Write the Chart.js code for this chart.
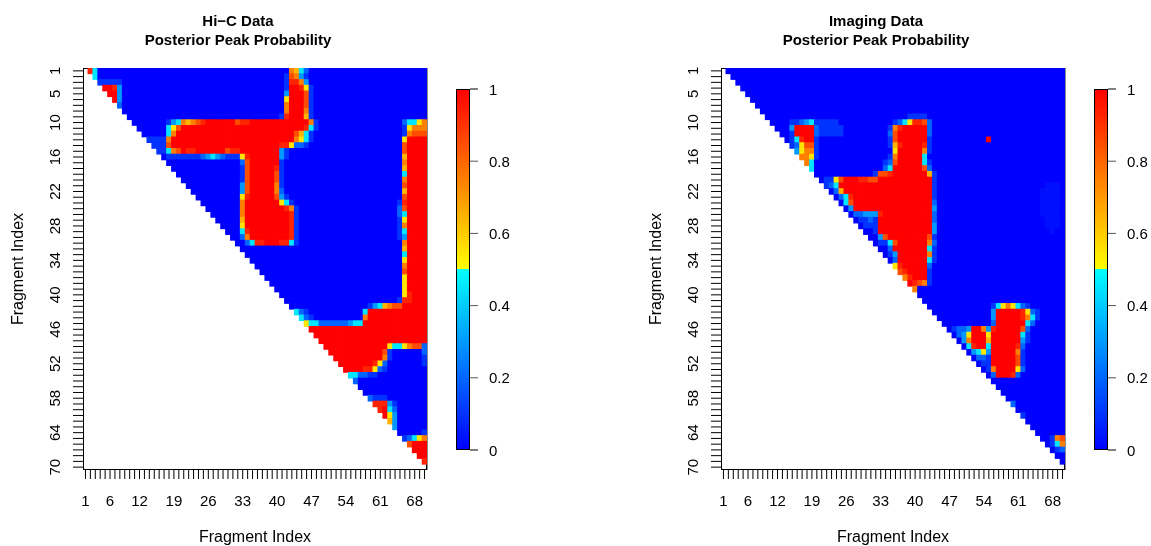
<!DOCTYPE html>
<html>
<head>
<meta charset="utf-8">
<script src="https://cdn.jsdelivr.net/npm/chart.js@4.4.1/dist/chart.umd.min.js"></script>
<style>
  html, body { margin: 0; padding: 0; background: #fff; overflow: hidden; }
  #wrap { position: relative; width: 1151px; height: 546px; }
  canvas { position: absolute; top: 0; }
  #hic { left: 0; }
  #imaging { left: 638px; }
</style>
</head>
<body>
<div id="wrap">
  <canvas id="hic" width="513" height="546"></canvas>
  <canvas id="imaging" width="513" height="546"></canvas>
</div>
<script>
var nFrag = 70;
var xTickLabels = [1, 6, 12, 19, 26, 33, 40, 47, 54, 61, 68];
var yTickLabels = [1, 5, 10, 16, 22, 28, 34, 40, 46, 52, 58, 64, 70];
var legendTicks = [0, 0.2, 0.4, 0.6, 0.8, 1];

// posterior probability codes used in the row specs below
var levels = { 'a': 0.03, '0': 0, '1': 0.1, '2': 0.2, '3': 0.3, '4': 0.45, '5': 0.55,
               '6': 0.65, '7': 0.75, '8': 0.85, '9': 0.93, 'X': 1 };

// one spec per row i (1..69), "col:code" or "from-to:code"; cells i<j not listed are ~0
var hicRows = [
  "2:9 3:4 43:7 44:6 45:4 46:2",
  "3:4 42:1 43:8 44:7 45:3 46:1",
  "4-8:1 42:1 43-44:9 45:7 46:3",
  "5-6:X 7:9 8:3 42:1 43-44:X 45:9 46:5 47:1",
  "6-7:X 8:3 42:3 43-45:X 46:8 47:1",
  "7:X 8:3 42:5 43-45:X 46:8 47:1",
  "8:2 42:7 43-45:X 46:8 47:1",
  "42:7 43-45:X 46:7 47:1",
  "41:1 42:9 43-45:X 46:6 47:1",
  "18:1 19:3 20:4 21:7 22:6 23:7 24:8 25:9 26-31:X 32:8 33-34:9 35-46:X 47:7 48:1 66:2 67-68:4 69:5 70:7",
  "18:4 19:5 20:8 21-45:X 46:9 47:4 48:1 66:1 67:5 68-70:7",
  "18:4 19:7 20-43:X 44:8 45:6 46:4 47:1 66:1 67:7 68-70:8",
  "14-17:1 18:7 19-43:X 44:7 45:5 46:4 47:1 66:5 67-70:X",
  "15-17:1 18:8 19-40:X 41-42:9 43:5 44-45:2 46:1 66:8 67-70:X",
  "16-17:1 18:4 19:7 20:8 21:X 22-23:9 24-29:X 30:8 31-32:9 33-40:X 41:3 42:1 66:8 67-70:X",
  "18-24:1 25:2 26:3 27:4 28:3 29:2 30-32:1 33:5 34:9 35-40:X 41:3 42:1 66:6 67-70:X",
  "33:2 34:8 35-40:X 41:1 66:7 67-70:X",
  "33:1 34:8 35-39:X 40:9 41:1 66:6 67-70:X",
  "33:1 34:8 35-39:X 40:8 41:1 66:4 67-70:X",
  "33:1 34:8 35-39:X 40:8 41:1 66:7 67-70:X",
  "33:3 34:8 35-39:X 40:7 41:1 66:8 67-70:X",
  "33:3 34:8 35-39:X 40:7 41:2 66:6 67-70:X",
  "33:5 34:9 35-39:X 40:8 41:3 42:1 66:8 67-70:X",
  "33:7 34-40:X 41:5 42:4 43:1 65:1 66:9 67-70:X",
  "33:7 34-41:X 42:9 43:7 44:1 65:2 66:8 67-70:X",
  "33:7 34-42:X 43:9 44:1 65:2 66:4 67-70:X",
  "33:6 34-42:X 43:9 44:1 65:1 66:5 67-70:X",
  "33:5 34-42:X 43:9 44:1 65:1 66:7 67-70:X",
  "33:4 34:9 35-42:X 43:9 44:1 65:1 66:4 67-70:X",
  "33:2 34:7 35-42:X 43:9 44:1 65:1 66:3 67-70:X",
  "34:2 35:4 36-37:9 38-40:X 41-42:9 43:4 44:1 66:7 67-70:X",
  "66:6 67-70:X",
  "66:4 67-70:X",
  "66:5 67-70:X",
  "66:7 67-70:X",
  "66:8 67-70:X",
  "66:5 67-70:X",
  "66:5 67-70:X",
  "66:5 67-70:X",
  "66:5 67:9 68-70:X",
  "65:1 66-67:9 68-70:X",
  "59:1 60:3 61:4 62:6 63:7 64-65:8 66-70:X",
  "44:4 45:2 46:1 58:4 59-70:X",
  "45:4 46:2 47:1 58:7 59-70:X",
  "46:5 47-48:4 49-54:2 55:3 56-57:4 58-70:X",
  "47-70:X",
  "48-70:X",
  "49-70:X",
  "50-62:X 63:5 64-65:4 66:5 67:7 68-69:8 70:2",
  "51-61:X 62:8 63:1 70:2",
  "52-61:X 62:7 63:1 70:1",
  "53-59:X 60:9 61:5 62:2 70:1",
  "54-57:X 58-59:9 60:5 61:2 62:1",
  "55-56:4 57-58:2 59-60:1",
  "56:2",
  "",
  "",
  "59:2 60-62:1",
  "60-62:9 63:3 64:1",
  "61:9 62:X 63:4 64:2",
  "62:X 63:5 64:3",
  "63:6 64:3",
  "64:3",
  "70:1",
  "66:1 67:2 68:4 69:5 70:7",
  "67:8 68-70:X",
  "68-70:X",
  "69-70:X",
  "70:9"
];

var imagingRows = [
  "", "", "", "", "", "", "", "",
  "39-42:1",
  "15-16:1 17:2 18:3 19:4 20-24:1 36:1 37:2 38:4 39:5 40-41:9 42:8 43:2",
  "15:3 16-19:X 20:2 21-25:1 35:1 36:7 37:9 38-42:X 43:2",
  "15:1 16-19:X 20:2 21-25:1 35:2 36:8 37-42:X 43:2",
  "15:1 16:4 17:9 18-19:X 20:1 35:1 36:8 37-42:X 43:1 55:X",
  "15:1 16:2 17:5 18-19:8 20:1 35:1 36:6 37:9 38-41:X 42:9 43:1",
  "16:3 17:5 18-19:7 20:1 36:5 37-41:X 42:7 43:1",
  "17-18:7 19:5 20:1 35:1 36:7 37-41:X 42:4",
  "18:7 19:4 34:1 35:2 36:8 37-41:X 42:4 43:1",
  "19:4 34:2 35:4 36-41:X 42:8 43:2",
  "32:1 33-34:8 35:9 36-42:X 43:6 44:1",
  "22-23:1 24:5 25:8 26-28:X 29-30:9 31-32:8 33-43:X 44:1",
  "22:1 23:2 24:4 25-43:X 44:1 67-69:a",
  "24:2 25:6 26-43:X 44:1 66-69:a",
  "25:2 26:4 27:9 28-43:X 44:1 66-69:a",
  "26:4 27:8 28-43:X 44:2 66-69:a",
  "27:3 28-43:X 44:3 66-69:a",
  "28:2 29:2 30-32:3 33:9 34-43:X 44:2 66-69:a",
  "29-30:1 31:2 32:1 33-43:X 44:2 67-69:a",
  "30-32:1 33-43:X 44:3 67-69:a",
  "32:1 33-43:X 44:3 68:a",
  "33:3 34:8 35-42:X 43:8 44:1",
  "33-34:1 35:4 36:8 37-42:X 43:7 44:2",
  "35:2 36-42:X 43:4 44:1",
  "35:1 36:3 37-42:X 43:7 44:1",
  "36:2 37-42:X 43:4 44:1",
  "36:5 37:9 38-42:X 43:2",
  "37:8 38:9 39-42:X 43:1",
  "38:7 39:9 40-42:X 43:1",
  "39:X 40:9 41:8 42:7 43:1",
  "40:7",
  "",
  "",
  "56:1 57:4 58:5 59:7 60:5 61:4 62:2 63:1",
  "56:3 57-61:X 62:9 63:5 64:2 65:1",
  "56:3 57-61:X 62:9 63:7 64:4 65:1",
  "56:2 57-62:X 63:4 64:2",
  "48:1 49-50:2 51:3 52-53:X 54:7 55:3 56:9 57-61:X 62:8 63:2",
  "49:2 50:3 51:5 52-54:X 55:5 56-61:X 62:4 63:1",
  "50:3 51:7 52-54:X 55:6 56-61:X 62:3 63:1",
  "51:4 52:9 53-54:X 55:4 56-60:X 61:9 62:2",
  "52:3 53:4 54:5 55:3 56-60:X 61:7 62:1",
  "53-54:2 55:1 56-60:X 61:8 62:1",
  "54-55:1 56-60:X 61:8 62:1",
  "55:1 56:7 57-60:X 61:5 62:2",
  "56:2 57-59:X 60:9 61:2",
  "", "", "", "",
  "60:2",
  "",
  "62:1",
  "", "", "",
  "68:1 69:7 70:8",
  "68:1 69:4 70:7",
  "69:1 70:2",
  "",
  ""
];

function buildCells(rows) {
  var cells = [];
  for (var r = 1; r < nFrag; r++) {
    var vals = {};
    (rows[r - 1] || '').split(' ').forEach(function (tok) {
      if (!tok) return;
      var parts = tok.split(':');
      var range = parts[0].split('-');
      var a = +range[0], b = +(range[1] || range[0]);
      for (var c = a; c <= b; c++) vals[c] = levels[parts[1]];
    });
    for (var c = r + 1; c <= nFrag; c++) {
      cells.push({ x: c, y: [r - 0.5, r + 0.5], p: vals[c] || 0 });
    }
  }
  return cells;
}

// blue -> cyan below 0.5, yellow -> red above
function probColor(p) {
  var t;
  if (p < 0.5) {
    t = p / 0.5;
    return 'rgb(0,' + Math.round(255 * t) + ',255)';
  }
  t = (p - 0.5) / 0.5;
  return 'rgb(255,' + Math.round(255 * (1 - t)) + ',0)';
}

var FONT = '"Liberation Sans", Arial, Helvetica, sans-serif';

var panelDecor = {
  id: 'panelDecor',
  beforeDatasetsDraw: function (chart) {
    var a = chart.chartArea, ctx = chart.ctx;
    ctx.save();
    ctx.strokeStyle = '#000';
    ctx.lineWidth = 1;
    ctx.strokeRect(a.left + 0.5, a.top + 0.5, a.right - a.left - 1, a.bottom - a.top - 1);
    ctx.restore();
  },
  afterDatasetsDraw: function (chart, args, opts) {
    var a = chart.chartArea, ctx = chart.ctx;
    var xs = chart.scales.x, ys = chart.scales.y;
    var i, px, py;
    ctx.save();

    // right edge of the plot box
    ctx.strokeStyle = '#8c8c8c';
    ctx.lineWidth = 1;
    ctx.beginPath();
    ctx.moveTo(a.right + 0.5, a.top);
    ctx.lineTo(a.right + 0.5, a.bottom);
    ctx.stroke();

    // ticks on every fragment
    ctx.strokeStyle = '#000';
    ctx.beginPath();
    for (i = 1; i <= nFrag; i++) {
      py = ys.getPixelForValue(i);
      ctx.moveTo(a.left - 10, py);
      ctx.lineTo(a.left, py);
      px = xs.getPixelForValue(i);
      ctx.moveTo(px, a.bottom);
      ctx.lineTo(px, a.bottom + 9);
    }
    ctx.stroke();

    ctx.fillStyle = '#000';
    ctx.font = '15px ' + FONT;
    ctx.textAlign = 'center';
    ctx.textBaseline = 'alphabetic';
    xTickLabels.forEach(function (v) {
      ctx.fillText(String(v), xs.getPixelForValue(v), 506);
    });
    yTickLabels.forEach(function (v) {
      ctx.save();
      ctx.translate(a.left - 23, ys.getPixelForValue(v));
      ctx.rotate(-Math.PI / 2);
      ctx.fillText(String(v), 0, 0);
      ctx.restore();
    });

    // axis titles
    ctx.font = '16px ' + FONT;
    ctx.fillText('Fragment Index', (a.left + a.right) / 2, 542);
    ctx.save();
    ctx.translate(23, (a.top + a.bottom) / 2);
    ctx.rotate(-Math.PI / 2);
    ctx.fillText('Fragment Index', 0, 0);
    ctx.restore();

    // main title
    ctx.font = 'bold 15px ' + FONT;
    ctx.fillText(opts.title[0], 238, 25.5);
    ctx.fillText(opts.title[1], 238, 44.5);

    // colour legend
    var lx = 456, lw = 14, top = 89, bot = 450;
    var g = ctx.createLinearGradient(0, bot, 0, top);
    g.addColorStop(0, probColor(0));
    g.addColorStop(0.5, probColor(0.4999));
    g.addColorStop(0.5, probColor(0.5));
    g.addColorStop(1, probColor(1));
    ctx.fillStyle = g;
    ctx.fillRect(lx, top, lw, bot - top);
    ctx.strokeStyle = '#000';
    ctx.strokeRect(lx + 0.5, top + 0.5, lw - 1, bot - top - 1);
    ctx.font = '15px ' + FONT;
    ctx.textAlign = 'left';
    ctx.fillStyle = '#000';
    legendTicks.forEach(function (v) {
      var y = bot - v * (bot - top);
      ctx.strokeStyle = v === 0 || v === 1 ? '#000' : '#555';
      ctx.beginPath();
      ctx.moveTo(lx + lw, y);
      ctx.lineTo(lx + lw + 8, y);
      ctx.stroke();
      ctx.fillText(String(v), 489, y + 5.5);
    });
    ctx.restore();
  }
};

function makePanel(id, title, rows) {
  var cells = buildCells(rows);
  return new Chart(document.getElementById(id), {
    type: 'bar',
    data: {
      datasets: [{
        data: cells,
        backgroundColor: cells.map(function (c) { return probColor(c.p); }),
        borderWidth: 0,
        barPercentage: 1,
        categoryPercentage: 1,
        grouped: false,
        inflateAmount: 0.4
      }]
    },
    options: {
      responsive: false,
      animation: false,
      devicePixelRatio: 1,
      events: [],
      layout: { padding: { left: 83, right: 86, top: 68, bottom: 76 } },
      plugins: {
        legend: { display: false },
        tooltip: { enabled: false },
        panelDecor: { title: title }
      },
      scales: {
        x: { type: 'linear', min: 0.5, max: 70.5, offset: false, display: false },
        y: { type: 'linear', min: 0.5, max: 70.5, reverse: true, display: false }
      }
    },
    plugins: [panelDecor]
  });
}

makePanel('hic', ['Hi\u2212C Data', 'Posterior Peak Probability'], hicRows);
makePanel('imaging', ['Imaging Data', 'Posterior Peak Probability'], imagingRows);
</script>
</body>
</html>
